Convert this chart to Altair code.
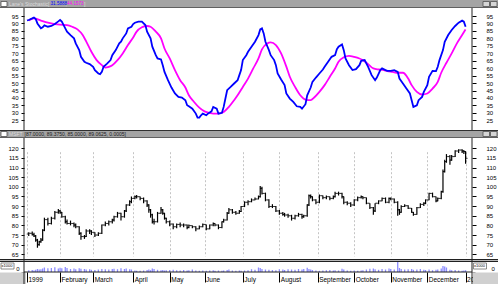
import altair as alt
import pandas as pd

FONT = "Liberation Sans"

# ---- x axis: trading-day index of each month start ----
MONTH_IDX = [0, 19, 38, 61, 82, 102, 124, 145, 167, 188, 209, 230, 252]
MONTH_NAMES = ["1999", "February", "March", "April", "May", "June", "July",
               "August", "September", "October", "November", "December", "2000"]

STO_TICKS = [25, 30, 35, 40, 45, 50, 55, 60, 65, 70, 75, 80, 85, 90, 95]
PRICE_TICKS = [65, 70, 75, 80, 85, 90, 95, 100, 105, 110, 115, 120]

# ---- Stochastic %K (blue) ----
K_IDX = [0, 1, 3, 4, 5, 6, 8, 9, 10, 12, 14, 16, 18, 19, 20, 22, 23, 25, 27, 28, 30, 31, 33, 34, 36,
         38, 39, 41, 42, 43, 44, 46, 48, 49, 51, 53, 54, 55, 57, 58, 60, 61, 62, 64, 66, 68, 69, 71,
         72, 74, 75, 77, 78, 79, 81, 83, 85, 87, 89, 91, 92, 93, 95, 97, 98, 99, 100, 101, 103, 104,
         106, 107, 109, 110, 112, 113, 114, 115, 117, 119, 121, 122, 123, 124, 126, 127, 129, 131,
         133, 134, 135, 136, 137, 139, 140, 142, 143, 144, 146, 148, 149, 151, 153, 155, 157, 158,
         160, 161, 163, 164, 166, 168, 170, 171, 173, 175, 177, 178, 179, 181, 182, 183, 185, 187,
         189, 191, 192, 194, 196, 198, 200, 201, 203, 204, 206, 207, 209, 211, 213, 214, 216, 218,
         220, 221, 222, 224, 225, 227, 228, 230, 231, 233, 235, 236, 237, 239, 240, 242, 244, 246,
         248, 250, 251, 252]
K_VAL = [92.0, 92.3, 93.4, 94.0, 93.0, 90.0, 86.7, 87.4, 88.7, 87.8, 88.3, 89.6, 91.4, 92.3, 91.2,
         86.7, 84.5, 82.2, 80.0, 76.6, 72.1, 67.6, 64.3, 63.6, 62.7,
         60.9, 58.7, 56.4, 56.0, 57.5, 60.9, 63.1, 65.4, 68.7, 72.1, 76.6, 77.7, 80.0, 83.3, 86.7,
         87.8, 89.6, 90.5, 91.2, 91.2, 88.9, 84.5, 80.0,
         74.4, 68.7, 66.5, 65.8, 62.0, 57.5, 51.9, 47.0, 43.0, 40.7, 40.3, 38.5, 35.1, 34.4, 32.8,
         29.5, 26.8, 26.8, 28.4, 29.5, 28.4, 29.5,
         31.0, 34.0, 32.8, 29.5, 30.0, 34.0, 39.6, 45.2, 47.4, 49.7, 51.9, 55.3, 58.7, 65.4, 68.7,
         71.0, 74.4, 77.7,
         82.2, 86.0, 86.7, 83.3, 77.7, 72.1, 68.7, 65.4, 62.0, 56.4, 52.4, 48.6, 43.0, 39.6, 37.3,
         34.4, 34.0, 32.8,
         35.8, 41.8, 47.0, 50.8, 53.7, 56.4, 59.1, 60.9, 64.3, 67.6, 68.7, 72.6, 74.4, 75.9, 72.1,
         66.5, 62.0, 58.7,
         59.3, 62.0, 64.9, 65.4, 60.9, 55.3, 51.9, 53.7, 58.7, 59.8, 58.7, 58.2, 58.2, 58.7, 57.5,
         53.0, 49.7, 46.3,
         43.0, 38.5, 34.0, 35.1, 38.5, 40.7, 44.1, 48.6, 54.2, 58.2, 58.0, 60.9, 65.4, 72.1, 77.7,
         82.2, 85.6, 88.3,
         90.5, 91.9, 91.2, 87.8]

# ---- Stochastic %D (magenta) ----
D_IDX = [1, 4, 8, 12, 16, 19, 23, 26, 29, 32, 34, 37, 40, 43, 45, 47, 49, 52, 55, 58, 61, 63, 66,
         69, 71, 74, 77, 79, 82, 85, 88, 91, 93, 96, 99, 102, 105, 107, 110, 113, 116, 119, 121,
         124, 127, 130, 133, 135, 138, 140, 143, 146, 149, 151, 154, 157, 160, 163, 165, 168, 171,
         174, 177, 179, 182, 185, 188, 191, 193, 196, 199, 202, 205, 207, 210, 213, 216, 219, 221,
         224, 227, 230, 233, 236, 238, 241, 244, 247, 250, 252]
D_VAL = [92.0, 93.4, 91.9, 90.5, 89.6, 89.2, 88.9, 87.8, 86.0, 82.2, 78.0, 71.0, 65.4, 62.0, 60.4,
         60.9, 62.0, 65.4, 69.9, 75.5, 80.6, 84.5, 87.4,
         88.3, 87.8, 84.5, 80.0, 73.2, 66.5, 58.7, 51.9, 47.0, 41.8, 37.3, 33.5, 31.0, 29.9, 29.5,
         29.5, 30.6, 34.0, 38.5, 41.8,
         47.4, 53.0, 59.8, 66.5, 72.6, 76.6, 77.3, 75.5, 69.9, 61.0, 54.2, 47.4, 41.8, 38.9, 38.5,
         40.3, 44.1, 48.6,
         54.2, 59.8, 64.3, 67.3, 68.3, 67.6, 66.5, 65.4, 62.7, 59.8, 59.1, 58.7, 58.0, 57.5, 56.9,
         56.9, 53.0, 48.6,
         44.1, 42.3, 43.0, 46.3, 50.8, 56.9, 63.6, 69.9, 76.6, 82.2, 86.0]

# ---- MSFT price bars ----
BAR_IDX = [1, 3, 4, 5, 6, 7, 8, 9, 10, 12, 14, 16, 18, 19, 20, 22, 23, 25, 27, 28, 30, 31, 33, 34,
           36, 37, 39, 41, 43, 45, 47, 49, 50, 52, 54, 56, 57, 59, 60, 62, 63, 65, 67, 69, 70, 71,
           72, 73, 75, 77, 78, 79, 80, 82, 84, 86, 88, 90, 92, 93, 95, 97, 99, 101, 103, 105, 107,
           108, 110, 112, 113, 115, 116, 118, 120, 122, 123, 125, 127, 129, 131, 133, 134, 135,
           137, 139, 141, 143, 145, 147, 148, 150, 152, 154, 156, 158, 159, 161, 162, 163, 164,
           166, 168, 170, 172, 174, 176, 177, 179, 181, 182, 184, 186, 188, 190, 192, 193, 195,
           197, 199, 200, 202, 204, 206, 208, 209, 211, 213, 214, 215, 217, 219, 221, 222, 224,
           226, 228, 229, 231, 233, 235, 236, 238, 239, 240, 241, 243, 244, 246, 248, 250, 251, 252]
OPEN = [75.5, 75.9, 75.2, 74.5, 72.4, 70.0, 71.5, 72.4, 77.5, 83.0, 81.0, 83.7, 86.8, 87.5, 86.8,
        84.5, 81.9, 81.0, 81.0, 80.2, 79.3, 75.9, 74.2, 74.2,
        77.1, 77.1, 76.4, 75.0, 75.9, 80.2, 81.0, 81.9, 82.8, 84.5, 86.3, 84.5, 87.5, 90.6, 92.3,
        94.0, 94.9, 94.9, 94.0, 92.7, 90.6, 88.1,
        85.5, 81.9, 81.9, 86.3, 88.1, 86.3, 83.7, 81.9, 80.7, 79.3, 80.5, 80.2, 80.2, 78.9, 79.9,
        79.3, 78.2, 79.3, 80.5, 78.2, 80.2,
        81.0, 80.2, 78.9, 81.9, 82.8, 86.3, 88.1, 86.8, 86.3, 87.2, 89.8, 92.0, 92.3, 93.2, 93.7,
        94.9, 99.2,
        96.6, 93.2, 89.8, 89.8, 87.5, 86.3, 85.7, 85.4, 85.0, 83.7, 85.0, 85.7, 84.5, 85.0, 90.6,
        95.4, 94.9,
        93.2, 92.0, 95.4, 94.4, 94.9, 94.0, 94.9, 96.6, 96.6, 94.9, 92.0, 91.5, 90.6, 93.2, 94.4,
        94.9, 94.4,
        91.5, 89.2, 87.5, 91.5, 92.7, 94.0, 92.0, 94.0, 93.7, 92.0, 88.1, 86.8, 89.8, 90.2, 88.9,
        86.8, 85.7,
        89.2, 90.9, 91.5, 93.2, 96.6, 94.9, 92.7, 94.0, 97.5, 107.9, 113.1, 115.7, 113.9, 115.7,
        118.6, 119.1, 118.6, 118.3]
HIGH = [76.5, 76.8, 76.2, 75.0, 73.0, 72.0, 73.5, 78.0, 84.0, 84.0, 84.5, 87.5, 88.5, 88.0, 87.0,
        85.0, 83.0, 82.5, 81.5, 81.0, 79.5, 76.5, 75.0, 78.0,
        78.0, 77.5, 76.5, 76.5, 80.5, 82.0, 82.5, 83.5, 85.0, 87.0, 86.5, 88.0, 91.0, 93.0, 95.0,
        95.5, 95.8, 95.0, 94.5, 93.0, 91.0, 88.5,
        86.0, 83.5, 87.0, 89.5, 88.5, 86.5, 84.0, 82.5, 81.0, 81.0, 81.5, 81.0, 80.5, 80.5, 80.0,
        79.5, 80.0, 81.0, 80.5, 80.5, 81.5,
        81.0, 80.5, 82.0, 83.5, 87.0, 89.0, 88.5, 87.5, 88.0, 90.0, 92.5, 93.0, 94.0, 94.5, 95.5,
        100.5, 100.0,
        97.0, 93.5, 91.0, 90.0, 88.0, 87.0, 86.5, 86.0, 85.5, 85.5, 86.5, 86.0, 85.5, 91.0, 96.0,
        96.0, 95.0,
        93.5, 96.0, 95.5, 95.5, 95.0, 95.5, 97.5, 97.5, 97.0, 95.0, 92.5, 92.0, 93.5, 95.0, 95.5,
        95.0, 94.5,
        91.5, 89.5, 91.5, 93.0, 94.5, 94.5, 94.5, 94.5, 94.0, 92.5, 88.5, 90.5, 91.0, 90.5, 89.0,
        87.0, 89.5,
        91.5, 92.0, 93.5, 97.0, 97.0, 95.0, 94.5, 98.0, 109.0, 114.0, 117.0, 116.5, 116.5, 119.0,
        119.5, 119.5, 119.0, 118.5]
LOW = [74.5, 74.8, 74.0, 71.5, 68.4, 69.5, 71.0, 72.0, 77.0, 80.0, 80.5, 83.0, 86.0, 86.0, 84.0,
       81.0, 80.5, 80.0, 79.0, 78.5, 75.0, 72.5, 73.0, 74.0,
       75.5, 75.0, 74.0, 74.5, 75.5, 79.5, 80.0, 81.0, 82.0, 84.0, 82.5, 84.0, 87.0, 90.0, 91.5,
       93.5, 94.0, 93.0, 91.5, 89.5, 86.5, 84.0,
       81.0, 80.5, 81.5, 86.0, 85.5, 83.0, 81.0, 79.5, 78.0, 78.5, 79.0, 79.0, 78.0, 78.5, 78.5,
       77.0, 78.0, 79.0, 77.5, 78.0, 79.5,
       79.5, 78.0, 78.5, 81.5, 82.5, 86.0, 86.0, 85.5, 86.0, 87.0, 89.5, 90.5, 92.0, 93.0, 93.5,
       94.5, 96.0,
       92.5, 89.0, 89.0, 87.0, 85.5, 85.0, 84.5, 84.0, 82.5, 83.0, 84.5, 83.5, 84.0, 84.5, 90.0,
       94.0, 92.5,
       91.0, 91.5, 93.5, 93.5, 93.0, 93.5, 94.5, 95.5, 94.0, 91.0, 90.5, 89.5, 90.0, 92.5, 94.0,
       93.5, 91.0,
       88.5, 85.5, 87.0, 91.0, 92.5, 91.5, 91.5, 93.0, 91.5, 85.0, 85.5, 86.5, 89.5, 88.5, 86.5,
       85.0, 85.5,
       89.0, 90.0, 91.0, 93.0, 94.5, 92.0, 92.5, 93.5, 97.0, 107.5, 112.5, 111.5, 113.5, 115.5,
       117.5, 117.5, 117.0, 112.0]
CLOSE = [75.9, 75.2, 74.5, 72.4, 70.0, 71.5, 72.4, 77.5, 83.0, 81.0, 83.7, 86.8, 87.5, 86.8, 84.5,
         81.9, 81.0, 81.0, 80.2, 79.3, 75.9, 74.2, 74.2, 77.1,
         77.1, 76.4, 75.0, 75.9, 80.2, 81.0, 81.9, 82.8, 84.5, 86.3, 84.5, 87.5, 90.6, 92.3, 94.0,
         94.9, 94.9, 94.0, 92.7, 90.6, 88.1, 85.5,
         81.9, 81.9, 86.3, 88.1, 86.3, 83.7, 81.9, 80.7, 79.3, 80.5, 80.2, 80.2, 78.9, 79.9, 79.3,
         78.2, 79.3, 80.5, 78.2, 80.2, 81.0,
         80.2, 78.9, 81.9, 82.8, 86.3, 88.1, 86.8, 86.3, 87.2, 89.8, 92.0, 92.3, 93.2, 93.7, 94.9,
         99.2, 96.6,
         93.2, 89.8, 89.8, 87.5, 86.3, 85.7, 85.4, 85.0, 83.7, 85.0, 85.7, 84.5, 85.0, 90.6, 95.4,
         94.9, 93.2,
         92.0, 95.4, 94.4, 94.9, 94.0, 94.9, 96.6, 96.6, 94.9, 92.0, 91.5, 90.6, 93.2, 94.4, 94.9,
         94.4, 91.5,
         89.2, 87.5, 91.5, 92.7, 94.0, 92.0, 94.0, 93.7, 92.0, 88.1, 86.8, 89.8, 90.2, 88.9, 86.8,
         85.7, 89.2,
         90.9, 91.5, 93.2, 96.6, 94.9, 92.7, 94.0, 97.5, 107.9, 113.1, 115.7, 113.9, 115.7, 118.6,
         119.1, 118.6, 118.3, 114.8]
VOLUME = [18000, 20000, 15000, 22000, 30000, 25000, 28000, 35000, 45000, 38000, 40000, 48000,
          35000, 42000, 38000, 50000, 40000, 30000, 35000, 28000, 38000, 32000, 30000, 25000,
          28000, 22000, 20000, 25000, 30000, 28000, 25000, 30000, 32000, 28000, 38000, 30000,
          35000, 28000, 25000, 15000, 12000, 12000, 15000, 20000, 25000, 18000,
          35000, 30000, 22000, 18000, 20000, 15000, 18000, 20000, 22000, 18000, 15000, 20000,
          15000, 18000, 25000, 15000, 12000, 15000, 12000, 15000, 18000,
          12000, 15000, 12000, 15000, 20000, 25000, 15000, 12000, 15000, 12000, 15000, 18000,
          28000, 22000, 45000, 40000, 30000,
          25000, 22000, 20000, 18000, 28000, 25000, 20000, 28000, 25000, 22000, 30000, 25000,
          30000, 42000, 30000, 25000, 20000,
          15000, 12000, 15000, 18000, 20000, 15000, 18000, 15000, 32000, 25000, 15000, 12000,
          15000, 12000, 15000, 18000, 25000,
          32000, 35000, 28000, 22000, 30000, 25000, 35000, 30000, 25000, 100000, 40000, 30000,
          25000, 28000, 30000, 22000, 25000,
          30000, 22000, 20000, 25000, 18000, 22000, 25000, 35000, 60000, 55000, 45000, 22000,
          18000, 20000, 15000, 12000, 15000, 18000]

kdf = pd.DataFrame({"idx": K_IDX, "k": K_VAL})
ddf = pd.DataFrame({"idx": D_IDX, "d": D_VAL})
bdf = pd.DataFrame({"idx": BAR_IDX, "open": OPEN, "high": HIGH, "low": LOW,
                    "close": CLOSE, "vol": VOLUME})
one = pd.DataFrame({"k": [0]})

W, H = 448, 272

# ---- scales (panel placement via pixel ranges) ----
XS = alt.Scale(domain=[0, 252], range=[-2, 446.6], nice=False, zero=False)
STO_S = alt.Scale(domain=[25, 95], range=[120.3, 16], nice=False, zero=False)
PRICE_S = alt.Scale(domain=[65, 120], range=[254.3, 148.3], nice=False, zero=False)
VOL_S = alt.Scale(domain=[0, 100000], range=[272, 262], nice=False, zero=True)

names_js = "[" + ",".join("'%s'" % n for n in MONTH_NAMES) + "]"
idx_js = "[" + ",".join(str(i) for i in MONTH_IDX) + "]"
XAX = alt.Axis(orient="bottom", values=MONTH_IDX,
               labelExpr="%s[indexof(%s, datum.value)]" % (names_js, idx_js),
               grid=True, gridDash=[2, 2], gridColor="#c4c4c4", gridWidth=1,
               domain=False, ticks=True, tickSize=10, tickColor="#000000",
               labelAlign="left", labelBaseline="top", labelPadding=-6, labelOffset=1,
               labelFont=FONT, labelFontSize=6.5, labelColor="#000000",
               labelOverlap=False, labelFlush=False, title=None, zindex=0)
X = alt.X("idx:Q", scale=XS, axis=XAX)


def yaxis(orient, values, tick, pad):
    return alt.Axis(orient=orient, values=values, domain=False, grid=False, ticks=True,
                    tickSize=tick, tickColor="#000000", labelPadding=pad, labelFont=FONT,
                    labelFontSize=6, labelColor="#000000", labelOverlap=False,
                    labelFlush=False, title=None)


d_line = alt.Chart(ddf).mark_line(color="#ff00ff", strokeWidth=1.8, interpolate="monotone").encode(
    x=X, y=alt.Y("d:Q", scale=STO_S, axis=yaxis("right", STO_TICKS, 4, 10)))
k_line = alt.Chart(kdf).mark_line(color="#0000ff", strokeWidth=1.8).encode(
    x=X, y=alt.Y("k:Q", scale=STO_S, axis=yaxis("left", STO_TICKS, 3, 3)))

hl = alt.Chart(bdf).mark_rule(color="#000000", strokeWidth=1.2).encode(
    x=X, y=alt.Y("low:Q", scale=PRICE_S, axis=yaxis("left", PRICE_TICKS, 3, 3)), y2="high:Q")
op = alt.Chart(bdf).mark_tick(orient="horizontal", size=2, thickness=1, xOffset=-1,
                              color="#000000").encode(
    x=X, y=alt.Y("open:Q", scale=PRICE_S, axis=None))
cl = alt.Chart(bdf).mark_tick(orient="horizontal", size=2, thickness=1, xOffset=1,
                              color="#000000").encode(
    x=X, y=alt.Y("close:Q", scale=PRICE_S, axis=yaxis("right", PRICE_TICKS, 4, 10)))

vol = alt.Chart(bdf).mark_bar(color="#8c8cff", size=1.3).encode(
    x=X, y=alt.Y("vol:Q", scale=VOL_S,
                 axis=alt.Axis(orient="left", values=[0], domain=False, grid=False, tickSize=3,
                               labelPadding=2, labelFont=FONT, labelFontSize=6,
                               labelBaseline="bottom", labelOffset=-1, title=None)))
vol_r = alt.Chart(bdf).mark_bar(opacity=0, size=1).encode(
    x=X, y=alt.Y("vol:Q", scale=VOL_S,
                 axis=alt.Axis(orient="right", values=[0], domain=False, grid=False, tickSize=3,
                               labelPadding=16, labelFont=FONT, labelFontSize=6,
                               labelBaseline="bottom", labelOffset=-1, title=None)))


def rect(x1, x2, y1, y2, fill, stroke=None):
    kw = {"fill": fill}
    if stroke:
        kw.update(stroke=stroke, strokeWidth=0.8)
    return alt.Chart(one).mark_rect(**kw).encode(
        x=alt.value(x1), x2=alt.value(x2), y=alt.value(y1), y2=alt.value(y2))


def rule(x1, x2, y1, y2, color="#000000", w=1):
    return alt.Chart(one).mark_rule(color=color, strokeWidth=w).encode(
        x=alt.value(x1), x2=alt.value(x2), y=alt.value(y1), y2=alt.value(y2))


def label(x, y, s, color, size=5, align="left"):
    return alt.Chart(one).mark_text(text=s, align=align, baseline="middle", font=FONT,
                                    fontSize=size, color=color).encode(
        x=alt.value(x), y=alt.value(y))


deco = [
    # top caption strip
    rect(-24, 474, 0, 8, "#a4a4a4"),
    rule(-24, 474, 7.5, 7.5, "#606060"),
    rect(-23, -17, 1.5, 6.5, "#ffffff", "#505050"),
    label(-15, 4, "Lane's Stochastic", "#dcdcdc", 5),
    label(24, 4, "[", "#dcdcdc", 5),
    label(26.5, 4, "31.5888", "#0000ff", 4.6),
    label(41.5, 4, ",", "#dcdcdc", 5),
    label(43, 4, "44.1573", "#ff00ff", 4.6),
    label(60, 4, "]", "#dcdcdc", 5),
    rect(459, 465.5, 1.5, 6.5, "#d6d6d6", "#505050"),
    rect(466.5, 473, 1.5, 6.5, "#d6d6d6", "#505050"),
    # strip between stochastic and price panels
    rect(-24, 474, 130, 138, "#a4a4a4"),
    rule(-24, 474, 130.5, 130.5, "#303030"),
    rule(-24, 474, 137.5, 137.5, "#606060"),
    rect(-23, -17, 131.5, 136.5, "#ffffff", "#505050"),
    label(-15, 134.2, "MSFT", "#dcdcdc", 5),
    label(0.5, 134.2, "[87.0000, 89.3750, 85.0000, 89.0625, 0.0005]", "#202020", 5),
    rect(459, 465.5, 131.5, 136.5, "#d6d6d6", "#505050"),
    rect(466.5, 473, 131.5, 136.5, "#d6d6d6", "#505050"),
    # separator between price and volume
    rect(-24, 474, 259, 262, "#b8b8b8"),
    rule(-24, 474, 259.5, 259.5, "#202020"),
    rule(-24, 474, 261.5, 261.5, "#202020"),
    # bottom corners
    rect(-24, 2, 272.5, 284, "#d0d0d0"),
    rect(449, 474, 272.5, 284, "#d0d0d0"),
    # frame lines
    rule(0, 0, 8, 130, "#202020"),
    rule(0, 0, 138, 284, "#202020"),
    rule(448, 448, 8, 130, "#202020"),
    rule(448, 448, 138, 284, "#202020"),
    rule(0, 448, 272, 272, "#202020"),
    # volume scale boxes
    rect(-23, -10, 263, 269, "#ffffff", "#707070"),
    label(-22.5, 266, "x1000", "#000000", 4),
    rect(449.5, 462.5, 263, 269, "#ffffff", "#707070"),
    label(450, 266, "x1000", "#000000", 4),
]

chart = alt.layer(d_line, k_line, hl, op, cl, vol, vol_r, *deco).resolve_scale(
    y="independent"
).properties(
    width=W, height=H,
    padding={"left": 24, "right": 26, "top": 0, "bottom": 12},
    autosize=alt.AutoSizeParams(type="none"),
    background="#ffffff",
).configure_view(stroke=None)

chart.save("out.html", embed_options={"renderer": "svg", "actions": False})
